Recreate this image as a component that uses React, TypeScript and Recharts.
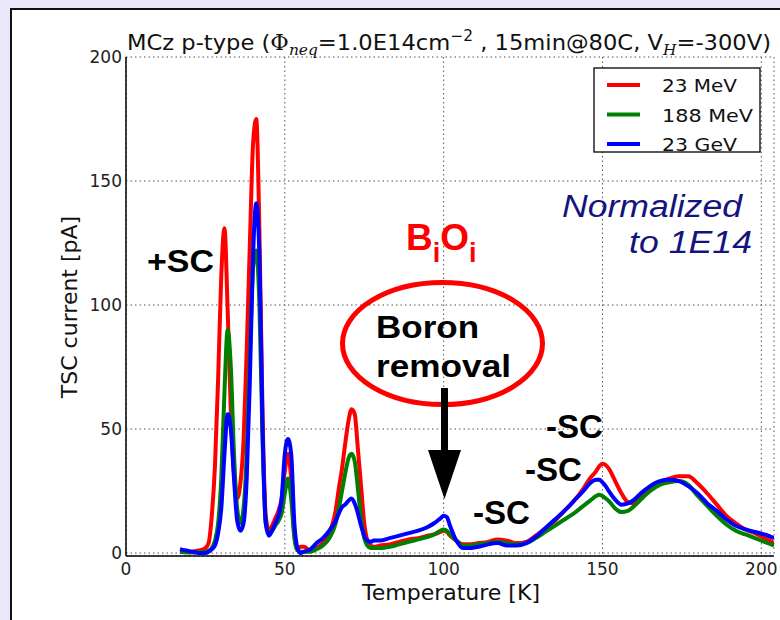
import React from 'react';
import { LineChart, Line, XAxis, YAxis, CartesianGrid } from 'recharts';

// Temperature grid [K]
const temperatures = [
  17, 19, 21, 23, 25, 26, 27, 28, 29, 30, 31, 32, 33, 34, 35, 36, 37, 38, 39, 40,
  41, 42, 43, 44, 45, 46, 47, 48, 49, 50, 51, 52, 53, 54, 55, 56, 58, 60, 62, 64,
  66, 67, 68, 69, 70, 71, 72, 73, 74, 75, 76, 77, 78, 80, 83, 86, 89, 92, 95, 97,
  99, 100, 101, 102, 104, 106, 108, 111, 114, 117, 120, 123, 126, 129, 132, 135, 138, 141, 144, 146,
  148, 149, 150, 151, 152, 154, 156, 158, 160, 162, 165, 168, 171, 174, 177, 180, 183, 186, 189, 192,
  195, 198, 201, 204,
];

// TSC current [pA], 23 MeV (red)
const current23MeV = [
  0.5, 0.3, 0.5, 1, 2, 4, 15, 35, 70, 112, 131, 98, 57, 32, 22, 28, 45, 82, 125, 165,
  175, 130, 55, 15, 9, 11, 14, 17, 22, 33, 40, 30, 8, 2, 2.5, 2.5, 1, 2, 4, 8,
  17, 26, 34, 44, 53, 58, 56, 42, 27, 12, 5, 3, 2.5, 3, 3.5, 4.5, 5.5, 6, 7, 7.5,
  8.5, 9, 8.5, 7, 5, 3.5, 3.5, 4, 4.5, 5.5, 5, 4, 4.5, 7, 10, 13, 17, 21, 26, 30,
  33, 35, 36, 35.5, 34, 29, 24, 20.5, 20, 22, 26, 28.5, 30, 31, 31, 28, 24, 19.5, 15, 12,
  9.5, 8, 6, 4,
];

// TSC current [pA], 188 MeV (green)
const current188MeV = [
  0.5, 0.3, 0.2, 0.3, 0.5, 1, 2, 5, 12, 30, 65, 90, 75, 40, 18, 12, 18, 40, 80, 115,
  122, 100, 45, 12, 8, 9, 11, 13, 16, 24, 30, 22, 6, 1, 0.5, 0.5, 0.5, 1.5, 3, 6,
  12, 18, 25, 32, 38, 40, 37, 26, 14, 6, 3, 2, 2, 2, 2.5, 3.5, 4.5, 5.5, 6.5, 7.5,
  9, 9.5, 9, 7.5, 5, 3, 3, 3.5, 4, 4.5, 4, 3.5, 4, 6, 8.5, 11, 13.5, 16, 19, 21,
  23, 23.5, 23, 22, 21, 18, 16.5, 17, 19, 21.5, 25, 27.5, 28.5, 29, 27.5, 23, 19, 15, 11.5, 9,
  7.5, 6, 4.5, 3,
];

// TSC current [pA], 23 GeV (blue)
const current23GeV = [
  1.5, 1, 0.5, 0, 0, 0.5, 1.5, 3, 8, 18, 40, 56, 50, 30, 13, 9, 12, 30, 70, 120,
  141, 120, 50, 12, 7, 9, 12, 15, 22, 40, 46, 40, 12, 2, 0, 0.5, 1.5, 4, 6, 9,
  13, 16, 18.5, 19.5, 21, 22, 20, 16, 11, 7, 5, 4.5, 5, 5, 6, 7, 8, 9, 10.5, 12,
  14, 15, 14.5, 11, 5, 2, 2, 2.5, 3.5, 4, 3, 3, 4, 6.5, 10, 13.5, 17, 21, 25, 28,
  29.5, 29.5, 28.5, 27, 25, 21.5, 19.5, 20, 21.5, 24, 27, 29, 29.5, 29, 27, 24, 20, 17, 13.5, 11,
  9.5, 8.5, 7.5, 6,
];

const seriesNames = ['23 MeV', '188 MeV', '23 GeV'];
const seriesColors = ['#ff0000', '#008000', '#0000ff'];
const seriesKeys = ['r', 'g', 'b'];
const xTicks = [0, 50, 100, 150, 200];
const yTicks = [0, 50, 100, 150, 200];

const data = temperatures.map((t, i) => ({
  t,
  r: current23MeV[i],
  g: current188MeV[i],
  b: current23GeV[i],
}));

const tickFont = { fontFamily: 'DejaVu Sans', fontSize: 17, fill: '#222' };
const annFont = 'Liberation Sans, Arial, sans-serif';

export default function App() {
  return (
    <div style={{ position: 'fixed', left: 0, top: 0, width: 780, height: 620, background: '#e9e9f9', overflow: 'hidden' }}>
      <div style={{ position: 'absolute', left: 10, top: 8, width: 820, height: 720, background: '#ffffff', border: '2px solid #111' }} />
      <div style={{ position: 'absolute', left: 0, top: 0 }}>
        <LineChart width={780} height={620} data={data} margin={{ top: 57, right: 6, bottom: 34, left: 86 }}>
          <CartesianGrid stroke="#555" strokeWidth={1} strokeDasharray="1.5 3" />
          <XAxis
            type="number"
            dataKey="t"
            domain={[0, 204]}
            ticks={xTicks}
            allowDataOverflow
            height={30}
            tickSize={0}
            tickMargin={7}
            tickLine={false}
            axisLine={{ stroke: '#000', strokeWidth: 1.5 }}
            tick={tickFont}
          />
          <XAxis
            xAxisId="top"
            orientation="top"
            type="number"
            domain={[0, 204]}
            ticks={xTicks}
            allowDataOverflow
            height={0}
            mirror
            tick={false}
            tickSize={5}
            tickLine={{ stroke: '#000' }}
            axisLine={{ stroke: '#000', strokeWidth: 1.5 }}
          />
          <XAxis
            xAxisId="bm"
            orientation="bottom"
            type="number"
            domain={[0, 204]}
            ticks={xTicks}
            allowDataOverflow
            height={0}
            mirror
            tick={false}
            tickSize={5}
            tickLine={{ stroke: '#000' }}
            axisLine={false}
          />
          <YAxis
            type="number"
            domain={[-1.2, 200]}
            ticks={yTicks}
            allowDataOverflow
            width={40}
            tickSize={0}
            tickMargin={4}
            tickLine={false}
            axisLine={{ stroke: '#000', strokeWidth: 1.5 }}
            tick={tickFont}
          />
          <YAxis
            yAxisId="lm"
            orientation="left"
            type="number"
            domain={[-1.2, 200]}
            ticks={yTicks}
            allowDataOverflow
            width={0}
            mirror
            tick={false}
            tickSize={5}
            tickLine={{ stroke: '#000' }}
            axisLine={false}
          />
          <YAxis
            yAxisId="right"
            orientation="right"
            type="number"
            domain={[-1.2, 200]}
            ticks={yTicks}
            allowDataOverflow
            width={0}
            mirror
            tick={false}
            tickSize={5}
            tickLine={{ stroke: '#000' }}
            axisLine={{ stroke: '#000', strokeWidth: 1.5 }}
          />
          {seriesKeys.map((k, i) => (
            <Line
              key={k}
              type="monotone"
              dataKey={k}
              name={seriesNames[i]}
              stroke={seriesColors[i]}
              strokeWidth={4}
              dot={false}
              isAnimationActive={false}
            />
          ))}
        </LineChart>
      </div>
      <svg width={780} height={620} style={{ position: 'absolute', left: 0, top: 0, pointerEvents: 'none' }}>
        {/* title */}
        <text x={127} y={50} fontFamily="DejaVu Sans" fontSize={22} fill="#111" textLength={644} lengthAdjust="spacingAndGlyphs">
          <tspan>MCz p-type (</tspan>
          <tspan fontFamily="DejaVu Serif">Φ</tspan>
          <tspan fontFamily="DejaVu Serif" fontStyle="italic" fontSize={15} dy={5}>neq</tspan>
          <tspan dy={-5}>=1.0E14cm</tspan>
          <tspan fontSize={15} dy={-9}>−2</tspan>
          <tspan dy={9}> , 15min@80C, V</tspan>
          <tspan fontFamily="DejaVu Serif" fontStyle="italic" fontSize={15} dy={5}>H</tspan>
          <tspan dy={-5}>=-300V)</tspan>
        </text>
        {/* axis labels */}
        <text x={451} y={600} textAnchor="middle" fontFamily="DejaVu Sans" fontSize={22} fill="#111">Temperature [K]</text>
        <text x={77} y={307} textAnchor="middle" fontFamily="DejaVu Sans" fontSize={22} fill="#111" transform="rotate(-90 77 307)">TSC current [pA]</text>
        {/* legend */}
        <rect x={594} y={68} width={166} height={84} fill="#fff" stroke="#000" strokeWidth={1.3} />
        {seriesNames.map((n, i) => (
          <g key={n}>
            <line x1={607} x2={640} y1={85 + i * 29.5} y2={85 + i * 29.5} stroke={seriesColors[i]} strokeWidth={4} />
            <text x={662} y={92 + i * 29.5} fontFamily="DejaVu Sans" fontSize={17} fill="#111" textLength={[75, 91, 75][i]} lengthAdjust="spacingAndGlyphs">{n}</text>
          </g>
        ))}
        {/* annotations */}
        <text x={147} y={272} fontFamily={annFont} fontWeight="bold" fontSize={31} fill="#000" textLength={67} lengthAdjust="spacingAndGlyphs">+SC</text>
        <text x={406} y={250} fontFamily={annFont} fontWeight="bold" fontSize={37} fill="#ff0000">
          <tspan>B</tspan>
          <tspan fontSize={27} dy={12}>i</tspan>
          <tspan dy={-12}>O</tspan>
          <tspan fontSize={27} dy={12}>i</tspan>
        </text>
        <ellipse cx={442.5} cy={343.5} rx={100} ry={61} fill="none" stroke="#ff0000" strokeWidth={5} />
        <text x={376} y={338} fontFamily={annFont} fontWeight="bold" fontSize={32} fill="#000" textLength={103} lengthAdjust="spacingAndGlyphs">Boron</text>
        <text x={376} y={377} fontFamily={annFont} fontWeight="bold" fontSize={32} fill="#000" textLength={135} lengthAdjust="spacingAndGlyphs">removal</text>
        <rect x={441} y={388} width={7} height={64} fill="#000" />
        <polygon points="428,450 461,450 444.5,499" fill="#000" />
        <text x={473} y={524} fontFamily={annFont} fontWeight="bold" fontSize={33} fill="#000" textLength={57} lengthAdjust="spacingAndGlyphs">-SC</text>
        <text x={525} y={481} fontFamily={annFont} fontWeight="bold" fontSize={33} fill="#000" textLength={57} lengthAdjust="spacingAndGlyphs">-SC</text>
        <text x={546} y={438} fontFamily={annFont} fontWeight="bold" fontSize={33} fill="#000" textLength={57} lengthAdjust="spacingAndGlyphs">-SC</text>
        <text x={562} y={217} fontFamily={annFont} fontStyle="italic" fontSize={31} fill="#14147e" textLength={180} lengthAdjust="spacingAndGlyphs">Normalized</text>
        <text x={629} y={253} fontFamily={annFont} fontStyle="italic" fontSize={31} fill="#14147e" textLength={123} lengthAdjust="spacingAndGlyphs">to 1E14</text>
      </svg>
    </div>
  );
}
